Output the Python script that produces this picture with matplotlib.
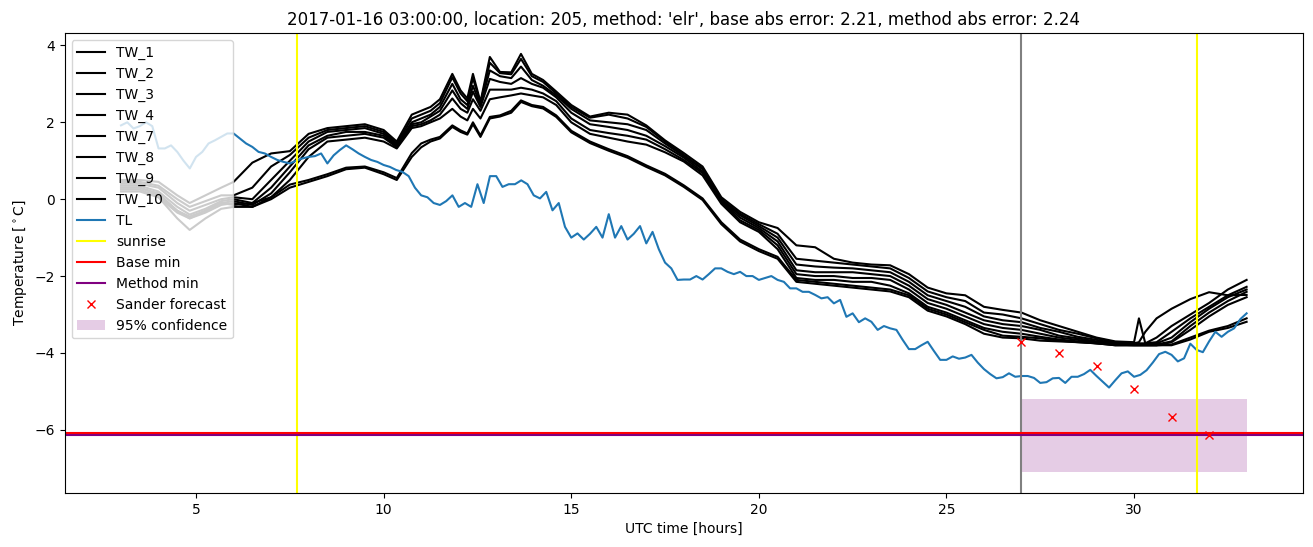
import numpy as np
import matplotlib
matplotlib.use("Agg")
import matplotlib.pyplot as plt

# ---------------- data ----------------
TITLE = ("2017-01-16 03:00:00, location: 205, method: 'elr', "
         "base abs error: 2.21, method abs error: 2.24")

# TL observed series, 10-minute steps from 3.0 h to 33.0 h
TL_START, TL_STEP = 3.0, 1.0 / 6.0
TL = [
    1.92, 2.0, 1.84, 1.9, 2.0, 1.9,
    1.32, 1.32, 1.40, 1.23, 1.0, 0.80,
    1.1, 1.23, 1.45, 1.53, 1.62, 1.71,
    1.71, 1.58, 1.45, 1.36, 1.23, 1.19,
    1.1, 1.02, 0.97, 0.93, 1.0, 1.06,
    1.1, 1.12, 1.19, 0.93, 1.14, 1.28,
    1.40, 1.3, 1.19, 1.1, 1.02, 0.97,
    0.89, 0.84, 0.76, 0.71, 0.6, 0.3,
    0.1, 0.05, -0.1, -0.15, -0.05, 0.1,
    -0.2, -0.1, -0.2, 0.39, -0.1, 0.6,
    0.6, 0.32, 0.39, 0.39, 0.49, 0.39,
    0.1, 0.02, 0.19, -0.29, -0.1, -0.72,
    -1.0, -0.89, -1.05, -0.9, -0.72, -1.0,
    -0.39, -1.0, -0.70, -1.05, -0.9, -0.7,
    -1.15, -0.85, -1.3, -1.65, -1.8, -2.1,
    -2.09, -2.09, -2.0, -2.09, -1.95, -1.8,
    -1.8, -1.89, -1.95, -1.89, -2.0, -2.0,
    -2.1, -2.05, -2.0, -2.1, -2.15, -2.32,
    -2.32, -2.41, -2.41, -2.49, -2.58, -2.55,
    -2.71, -2.62, -3.06, -2.97, -3.2, -3.1,
    -3.19, -3.40, -3.3, -3.36, -3.40, -3.66,
    -3.90, -3.9, -3.8, -3.71, -3.95, -4.18,
    -4.18, -4.09, -4.15, -4.12, -4.05, -4.25,
    -4.42, -4.55, -4.66, -4.63, -4.53, -4.62,
    -4.6, -4.6, -4.65, -4.78, -4.76, -4.66,
    -4.65, -4.78, -4.62, -4.62, -4.55, -4.44,
    -4.6, -4.75, -4.90, -4.71, -4.53, -4.48,
    -4.62, -4.57, -4.45, -4.25, -4.03, -3.97,
    -4.05, -4.22, -4.14, -3.76, -3.92, -3.98,
    -3.7, -3.45, -3.58, -3.45, -3.36, -3.12,
    -2.97,
]

TW_HOURS = [3.0, 3.5, 4.0, 4.5, 4.83, 5.25, 5.67, 6.0, 6.5, 7.0,
            7.5, 8.0, 8.5, 9.0, 9.5, 10.0, 10.35, 10.75, 11.0, 11.25,
            11.5, 11.83, 12.05, 12.23, 12.38, 12.58, 12.83, 13.1, 13.4, 13.66,
            13.95, 14.25, 14.6, 15.0, 15.5, 16.0, 16.5, 17.0, 17.5, 18.0,
            18.5, 19.0, 19.5, 20.0, 20.5, 21.0, 21.5, 22.0, 22.5, 23.0,
            23.5, 24.0, 24.5, 25.0, 25.5, 26.0, 26.5, 27.0, 27.5, 28.0,
            28.5, 29.0, 29.5, 30.0, 30.13, 30.3, 30.6, 31.0, 31.5, 32.0,
            32.5, 33.0]

TW_1 = [0.5, 0.5, 0.45, 0.1, -0.1, 0.1, 0.3, 0.45, 0.95, 1.19,
        1.25, 1.7, 1.85, 1.9, 1.95, 1.8, 1.5, 2.2, 2.3, 2.4,
        2.6, 3.26, 2.83, 2.62, 3.26, 2.53, 3.70, 3.31, 3.3, 3.78,
        3.26, 3.1, 2.8, 2.45, 2.15, 2.25, 2.2, 1.92, 1.53, 1.2,
        0.85, 0.05, -0.33, -0.6, -0.75, -1.2, -1.25, -1.55, -1.65, -1.7,
        -1.72, -1.95, -2.3, -2.45, -2.5, -2.8, -2.88, -2.95, -3.15, -3.3,
        -3.45, -3.6, -3.7, -3.72, -3.1, -3.75, -3.6, -3.3, -3.0, -2.7,
        -2.35, -2.1]
TW_2 = [0.45, 0.45, 0.35, 0.0, -0.2, -0.05, 0.1, 0.1, 0.3, 0.85,
        1.15, 1.6, 1.8, 1.85, 1.9, 1.75, 1.45, 2.1, 2.2, 2.3,
        2.5, 3.17, 2.75, 2.55, 3.15, 2.5, 3.55, 3.28, 3.25, 3.65,
        3.2, 3.05, 2.75, 2.4, 2.12, 2.2, 2.1, 1.88, 1.5, 1.15,
        0.8, 0.0, -0.38, -0.65, -0.9, -1.55, -1.6, -1.65, -1.7, -1.75,
        -1.8, -2.05, -2.4, -2.55, -2.65, -2.95, -3.0, -3.1, -3.25, -3.4,
        -3.5, -3.62, -3.72, -3.75, -3.72, -3.45, -3.1, -2.85, -2.6, -2.42,
        -2.5, -2.49]
TW_3 = [0.4, 0.4, 0.3, -0.1, -0.3, -0.15, 0.0, 0.05, 0.0, 0.5,
        1.0, 1.5, 1.75, 1.8, 1.85, 1.7, 1.42, 2.0, 2.1, 2.2,
        2.4, 3.0, 2.6, 2.45, 2.95, 2.45, 3.35, 3.2, 3.15, 3.45,
        3.1, 2.95, 2.7, 2.35, 2.05, 2.0, 1.95, 1.8, 1.45, 1.12,
        0.78, -0.02, -0.42, -0.7, -1.0, -1.7, -1.75, -1.78, -1.8, -1.85,
        -1.9, -2.15, -2.5, -2.65, -2.8, -3.05, -3.15, -3.2, -3.35, -3.45,
        -3.58, -3.66, -3.75, -3.75, -3.75, -3.75, -3.72, -3.45, -3.1, -2.8,
        -2.5, -2.28]
TW_4 = [0.35, 0.35, 0.2, -0.2, -0.4, -0.25, -0.05, 0.0, -0.1, 0.3,
        0.85, 1.4, 1.65, 1.75, 1.75, 1.65, 1.38, 1.95, 2.0, 2.15,
        2.3, 2.83, 2.5, 2.35, 2.8, 2.4, 3.13, 3.05, 3.0, 3.15,
        3.0, 2.9, 2.65, 2.25, 1.95, 1.88, 1.8, 1.65, 1.38, 1.08,
        0.72, -0.05, -0.48, -0.75, -1.1, -1.85, -1.9, -1.9, -1.9, -1.95,
        -2.0, -2.25, -2.6, -2.75, -2.95, -3.15, -3.25, -3.3, -3.4, -3.55,
        -3.62, -3.7, -3.75, -3.78, -3.78, -3.78, -3.75, -3.6, -3.2, -2.85,
        -2.55, -2.35]
TW_7 = [0.3, 0.3, 0.1, -0.3, -0.45, -0.3, -0.1, -0.05, -0.15, 0.15,
        0.7, 1.3, 1.6, 1.65, 1.7, 1.6, 1.35, 1.9, 1.95, 2.05,
        2.2, 2.62, 2.35, 2.25, 2.6, 2.3, 2.85, 2.85, 2.85, 2.9,
        2.85, 2.75, 2.55, 2.1, 1.8, 1.72, 1.65, 1.55, 1.3, 1.02,
        0.68, -0.08, -0.55, -0.8, -1.2, -1.95, -2.0, -2.0, -2.05, -2.05,
        -2.1, -2.35, -2.7, -2.85, -3.05, -3.25, -3.35, -3.4, -3.5, -3.6,
        -3.66, -3.72, -3.78, -3.78, -3.78, -3.78, -3.78, -3.7, -3.3, -2.95,
        -2.65, -2.41]
TW_8 = [0.25, 0.25, 0.05, -0.35, -0.5, -0.35, -0.15, -0.1, -0.2, 0.05,
        0.5, 1.1, 1.5, 1.55, 1.6, 1.5, 1.32, 1.85, 1.9, 2.0,
        2.1, 2.35, 2.15, 2.05, 2.35, 2.1, 2.6, 2.65, 2.7, 2.75,
        2.7, 2.65, 2.45, 2.0, 1.7, 1.6, 1.5, 1.42, 1.22, 0.98,
        0.62, -0.12, -0.6, -0.85, -1.3, -2.05, -2.1, -2.1, -2.15, -2.15,
        -2.25, -2.45, -2.8, -2.95, -3.15, -3.35, -3.45, -3.5, -3.58, -3.65,
        -3.7, -3.75, -3.78, -3.8, -3.8, -3.8, -3.8, -3.72, -3.4, -3.05,
        -2.75, -2.55]
TW_9 = [0.3, 0.3, 0.15, -0.3, -0.5, -0.3, -0.1, -0.15, -0.1, 0.05,
        0.38, 0.5, 0.65, 0.82, 0.85, 0.7, 0.55, 1.2, 1.45, 1.55,
        1.62, 1.92, 1.79, 1.71, 2.0, 1.66, 2.14, 2.18, 2.3, 2.57,
        2.45, 2.4, 2.18, 1.78, 1.5, 1.3, 1.12, 0.88, 0.66, 0.36,
        0.02, -0.6, -1.05, -1.3, -1.5, -2.1, -2.15, -2.2, -2.25, -2.3,
        -2.35, -2.5, -2.85, -3.0, -3.2, -3.4, -3.55, -3.58, -3.62, -3.68,
        -3.72, -3.75, -3.8, -3.8, -3.8, -3.8, -3.8, -3.78, -3.6, -3.42,
        -3.3, -3.1]
TW_10 = [0.2, 0.2, 0.05, -0.5, -0.8, -0.5, -0.25, -0.2, -0.2, 0.0,
         0.3, 0.45, 0.6, 0.78, 0.82, 0.65, 0.5, 1.1, 1.35, 1.5,
         1.58, 1.88, 1.75, 1.68, 1.95, 1.62, 2.1, 2.15, 2.25, 2.53,
         2.42, 2.36, 2.14, 1.74, 1.46, 1.26, 1.08, 0.84, 0.62, 0.32,
         -0.02, -0.65, -1.1, -1.35, -1.55, -2.15, -2.2, -2.25, -2.3, -2.35,
         -2.4, -2.55, -2.9, -3.05, -3.25, -3.5, -3.6, -3.62, -3.68, -3.7,
         -3.72, -3.75, -3.8, -3.8, -3.8, -3.8, -3.8, -3.8, -3.65, -3.45,
         -3.35, -3.19]

TW_NAMES = ["TW_1", "TW_2", "TW_3", "TW_4", "TW_7", "TW_8", "TW_9", "TW_10"]
TW_SERIES = [TW_1, TW_2, TW_3, TW_4, TW_7, TW_8, TW_9, TW_10]

SUNRISE = [7.68, 31.68]
FORECAST_START = 27.0
BASE_MIN = -6.08
METHOD_MIN = -6.13
SANDER_HOURS = [27, 28, 29, 30, 31, 32]
SANDER_VALUES = [-3.71, -4.0, -4.34, -4.94, -5.66, -6.13]
CONF_HOURS = [27.0, 33.0]
CONF_LOW = -7.1
CONF_HIGH = -5.19

# ---------------- plot ----------------
fig = plt.figure(figsize=(13.13, 5.47), dpi=100)
ax = fig.add_axes([0.0493, 0.0987, 0.943, 0.841])

for name, vals in zip(TW_NAMES, TW_SERIES):
    ax.plot(TW_HOURS, vals, color="black", label=name)

tl_hours = TL_START + TL_STEP * np.arange(len(TL))
ax.plot(tl_hours, TL, color="C0", label="TL")

for i, s in enumerate(SUNRISE):
    ax.axvline(s, color="yellow", label="sunrise" if i == 0 else None)
ax.axvline(FORECAST_START, color="gray")
ax.axhline(BASE_MIN, color="red", label="Base min")
ax.axhline(METHOD_MIN, color="purple", label="Method min")
ax.plot(SANDER_HOURS, SANDER_VALUES, "rx", label="Sander forecast")
ax.fill_between(CONF_HOURS, CONF_LOW, CONF_HIGH, color="purple", alpha=0.2,
                linewidth=0, label="95% confidence")

ax.set_title(TITLE)
ax.set_xlabel("UTC time [hours]")
ax.set_ylabel(r"Temperature [$^\circ$C]")
ax.legend(loc="upper left")

fig.savefig("out.png", dpi=100)
